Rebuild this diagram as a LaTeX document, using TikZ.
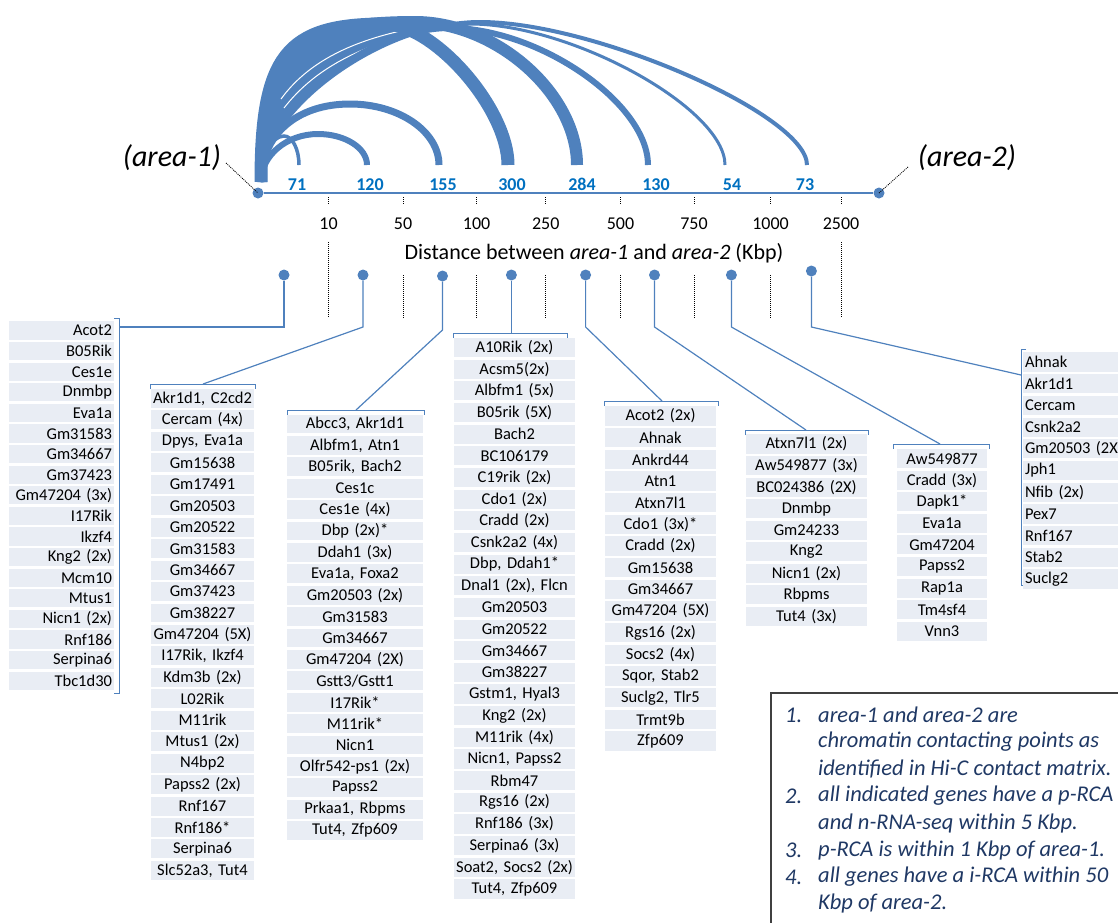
\documentclass[tikz,border=0pt]{standalone}
\usepackage{fontspec}
\setmainfont{Carlito}
\definecolor{arcblue}{RGB}{79,129,189}
\definecolor{numblue}{RGB}{0,112,192}
\definecolor{cellfill}{RGB}{233,237,244}
\definecolor{notenavy}{RGB}{31,56,100}
\definecolor{boxgray}{RGB}{64,64,64}
\newcommand\cellfont{\fontsize{16.5}{18}\selectfont}
\newcommand\genecol[7]{%
  \pgfmathsetmacro\gcw{#3-4}%
  \pgfmathsetmacro\gch{#5-2.5}%
  \foreach \g [count=\i] in {#7} {
    \node[cell, minimum width=#3pt, minimum height=\gch pt, text width=\gcw pt, align=#6]
      (#1-\i) at ({#2+#3/2}, {#4+(\i-1)*#5}) {\g};
  }%
}
\newcommand\hicarc[7]{% end name, xp, yp, xe, lw, kL, kR
  \pgfmathsetmacro\cay{182-#6*(182-#3)}%
  \pgfmathsetmacro\cbx{#2-#6*(#2-261)}%
  \pgfmathsetmacro\ccx{#2+#7*(#4-#2)}%
  \pgfmathsetmacro\cdy{165-#7*(165-#3)}%
  \coordinate (#1) at (#4,165);
  \draw[arcline, line width=#5pt] (stem) .. controls (261,\cay) and (\cbx,#3) .. (#2,#3)
     .. controls (\ccx,#3) and (#4,\cdy) .. (#1);
}
\begin{document}
\begin{tikzpicture}[x=1pt,y=-1pt,
  cell/.style={fill=cellfill, inner xsep=2pt, inner ysep=0pt, font=\cellfont, text=black},
  arcline/.style={draw=arcblue, line cap=butt},
  bigdot/.style={circle, fill=arcblue, minimum size=11pt, inner sep=0pt},
  smalldot/.style={circle, fill=arcblue, minimum size=11pt, inner sep=0pt},
  axisline/.style={draw=arcblue, line width=1.5pt},
  lead/.style={draw=arcblue, line width=1.2pt},
  bracket/.style={draw=arcblue, line width=1pt},
  dotline/.style={draw=black, line width=0.8pt, dash pattern=on 1pt off 1pt},
  sliver/.style={draw=white, line width=1pt},
  numlab/.style={font=\fontsize{18}{20}\selectfont\bfseries, text=numblue, inner sep=0pt, anchor=base},
  ticklab/.style={font=\fontsize{18}{20}\selectfont, inner sep=0pt},
  arealab/.style={font=\fontsize{30}{34}\selectfont\itshape, inner sep=0pt},
  notetext/.style={font=\fontsize{22.5}{26}\selectfont\itshape, text=notenavy, anchor=west, inner sep=0pt}
]
\useasboundingbox (0,0) rectangle (1118,922);
\clip (0,0) rectangle (1118,922);

% ---------- arcs ----------
\coordinate (stem) at (261,182);
% merged left part of the arc bundle
\fill[arcblue] (stem) .. controls (261,110) and (381.5,22) .. (480,22) -- (415,22)
   .. controls (291.8,22) and (261,54) .. (stem) -- cycle;
\draw[sliver] (289,116) .. controls (318,80) and (360,52) .. (430,36);
\draw[sliver] (284,108) .. controls (312,72) and (355,46) .. (425,31);
\draw[sliver] (281,99) .. controls (305,66) and (345,42) .. (410,29);
\hicarc{e73}{480}{22}{807}{4}{0.45}{0.35}
\hicarc{e54}{470}{24}{725}{3}{0.45}{0.4}
\hicarc{e130}{450}{28}{648}{6}{0.45}{0.45}
\hicarc{e284}{415}{22}{577}{12}{0.8}{0.5}
\hicarc{e300}{385}{24}{508}{13}{0.8}{0.4}
\hicarc{e155}{350}{104}{439}{7}{0.6}{0.55}
\hicarc{e120}{318}{134}{367}{6}{0.55}{0.55}
\hicarc{e71}{284}{136}{299}{3.5}{0.55}{0.55}

% ---------- axis ----------
\node[bigdot] (a1) at (258,193) {};
\node[bigdot] (a2) at (879,193) {};
\draw[axisline] (a1) -- (a2);
\node[arealab] (l1) at (172,158) {(area-1)};
\node[arealab] (l2) at (967,158) {(area-2)};
\coordinate (q1) at (226,163);
\coordinate (q2) at (908,167);
\draw[dotline] (q1) -- (a1.center);
\draw[dotline] (q2) -- (a2.center);

% count labels
\foreach \x/\t/\n in {297/71/n71, 370/120/n120, 443/155/n155, 512/300/n300, 582/284/n284, 656/130/n130, 732/54/n54, 805/73/n73}
  \node[numlab] (\n) at (\x,190) {\t};

% ticks and tick labels
\foreach \x/\t [count=\i] in {328.5/10, 403/50, 476.6/100, 545.8/250, 620.5/500, 694/750, 770.5/1000, 841/2500}{
  \coordinate (tk\i) at (\x,197);
  \coordinate (tke\i) at (\x,205);
  \draw[dotline] (tk\i) -- (tke\i);
  \node[ticklab] (tl\i) at (\x,224) {\t};
}
\node[font=\fontsize{22}{26}\selectfont, inner sep=0pt] (axtitle) at (594,253)
  {Distance between \textit{area-1} and \textit{area-2} (Kbp)};

% lower dotted lines
\foreach \x/\ys [count=\i] in {328.5/242, 403/275, 476.6/275, 545.8/275, 620.5/275, 694/275, 770.5/275, 841/242}{
  \coordinate (ls\i) at (\x,\ys);
  \coordinate (le\i) at (\x,318);
  \draw[dotline] (ls\i) -- (le\i);
}

% ---------- lollipops ----------
\node[smalldot] (d1) at (284,275) {};
\node[smalldot] (d2) at (363,275) {};
\node[smalldot] (d3) at (442.5,276) {};
\node[smalldot] (d4) at (511.4,275) {};
\node[smalldot] (d5) at (585.6,275) {};
\node[smalldot] (d6) at (654.5,275) {};
\node[smalldot] (d7) at (731.4,275) {};
\node[smalldot] (d8) at (811.4,271) {};

\coordinate (b1) at (284,327);   \coordinate (k1) at (119,327);
\coordinate (b2) at (363,327);   \coordinate (k2) at (203,384);
\coordinate (b3) at (442.5,330); \coordinate (k3) at (356,410);
\coordinate (k4) at (511.4,333);
\coordinate (b5) at (585.6,327); \coordinate (k5) at (662,401);
\coordinate (b6) at (654.5,327); \coordinate (k6) at (806,430);
\coordinate (b7) at (731.4,327); \coordinate (k7) at (940,444);
\coordinate (b8) at (811.4,327); \coordinate (k8) at (1021,375);

\draw[lead] (d1) -- (b1) -- (k1);
\draw[lead] (d2) -- (b2) -- (k2);
\draw[lead] (d3) -- (b3) -- (k3);
\draw[lead] (d4) -- (k4);
\draw[lead] (d5) -- (b5) -- (k5);
\draw[lead] (d6) -- (b6) -- (k6);
\draw[lead] (d7) -- (b7) -- (k7);
\draw[lead] (d8) -- (b8) -- (k8);

% brackets
\draw[bracket] (114,318) -- (119,318) -- (119,693) -- (114,693);
\draw[bracket] (150,389) -- (150,384) -- (255,384) -- (255,389);
\draw[bracket] (287,415) -- (287,410) -- (424,410) -- (424,415);
\draw[bracket] (453,338) -- (453,333) -- (567,333) -- (567,338);
\draw[bracket] (604,406) -- (604,401) -- (718,401) -- (718,406);
\draw[bracket] (745,435) -- (745,430) -- (868,430) -- (868,435);
\draw[bracket] (893,449) -- (893,444) -- (989,444) -- (989,449);
\draw[bracket] (1026,349) -- (1021,349) -- (1021,585) -- (1026,585);

% ---------- gene columns ----------
\genecol{ca}{9}{105}{330.5}{20.6}{right}{Acot2, B05Rik, Ces1e, Dnmbp, Eva1a, Gm31583, Gm34667, Gm37423, Gm47204 (3x), I17Rik, Ikzf4, Kng2 (2x), Mcm10, Mtus1, Nicn1 (2x), Rnf186, Serpina6, Tbc1d30}
\genecol{cb}{151}{103}{398.5}{21.45}{center}{{Akr1d1, C2cd2}, Cercam (4x), {Dpys, Eva1a}, Gm15638, Gm17491, Gm20503, Gm20522, Gm31583, Gm34667, Gm37423, Gm38227, Gm47204 (5X), {I17Rik, Ikzf4}, Kdm3b (2x), L02Rik, M11rik, Mtus1 (2x), N4bp2, Papss2 (2x), Rnf167, Rnf186*, Serpina6, {Slc52a3, Tut4}}
\genecol{cc}{287}{136}{424}{21.4}{center}{{Abcc3, Akr1d1}, {Albfm1, Atn1}, {B05rik, Bach2}, Ces1c, Ces1e (4x), Dbp (2x)*, Ddah1 (3x), {Eva1a, Foxa2}, Gm20503 (2x), Gm31583, Gm34667, Gm47204 (2X), Gstt3/Gstt1, I17Rik*, M11rik*, Nicn1, Olfr542-ps1 (2x), Papss2, {Prkaa1, Rbpms}, {Tut4, Zfp609}}
\genecol{cd}{454}{121}{347.5}{21.66}{center}{A10Rik (2x), Acsm5(2x), Albfm1 (5x), B05rik (5X), Bach2, BC106179, C19rik (2x), Cdo1 (2x), Cradd (2x), Csnk2a2 (4x), {Dbp, Ddah1*}, {Dnal1 (2x), Flcn}, Gm20503, Gm20522, Gm34667, Gm38227, {Gstm1, Hyal3}, Kng2 (2x), M11rik (4x), {Nicn1, Papss2}, Rbm47, Rgs16 (2x), Rnf186 (3x), Serpina6 (3x), {Soat2, Socs2 (2x)}, {Tut4, Zfp609}}
\genecol{ce}{605}{111}{416}{21.67}{center}{Acot2 (2x), Ahnak, Ankrd44, Atn1, Atxn7l1, Cdo1 (3x)*, Cradd (2x), Gm15638, Gm34667, Gm47204 (5X), Rgs16 (2x), Socs2 (4x), {Sqor, Stab2}, {Suclg2, Tlr5}, Trmt9b, Zfp609}
\genecol{cf}{746}{121}{444}{21.56}{center}{Atxn7l1 (2x), Aw549877 (3x), BC024386 (2X), Dnmbp, Gm24233, Kng2, Nicn1 (2x), Rbpms, Tut4 (3x)}
\genecol{cg}{897}{90}{458.5}{21.6}{center}{Aw549877, Cradd (3x), Dapk1*, Eva1a, Gm47204, Papss2, Rap1a, Tm4sf4, Vnn3}
\genecol{ch}{1023}{104}{362}{21.7}{left}{Ahnak, Akr1d1, Cercam, Csnk2a2, Gm20503 (2X, Jph1, Nfib (2x), Pex7, Rnf167, Stab2, Suclg2}

% ---------- note box ----------
\draw[draw=boxgray, line width=1.3pt] (771,693) rectangle (1130,935);
\node[notetext] (m1) at (785,715) {1.};
\node[notetext] (m2) at (785,796) {2.};
\node[notetext] (m3) at (785,850) {3.};
\node[notetext] (m4) at (785,877) {4.};
\node[notetext] (t1) at (818,715) {area-1 and area-2 are};
\node[notetext] (t2) at (818,742) {chromatin contacting points as};
\node[notetext] (t3) at (818,769) {identified in Hi-C contact matrix.};
\node[notetext] (t4) at (818,796) {all indicated genes have a p-RCA};
\node[notetext] (t5) at (818,823) {and n-RNA-seq within 5 Kbp.};
\node[notetext] (t6) at (818,850) {p-RCA is within 1 Kbp of area-1.};
\node[notetext] (t7) at (818,877) {all genes have a i-RCA within 50};
\node[notetext] (t8) at (818,903) {Kbp of area-2.};
\end{tikzpicture}
\end{document}
